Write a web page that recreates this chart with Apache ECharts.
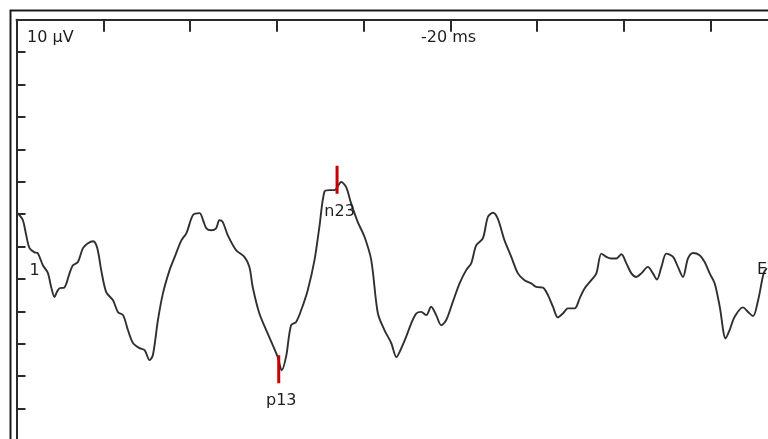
<!DOCTYPE html>
<html>
<head>
<meta charset="utf-8">
<script src="https://cdn.jsdelivr.net/npm/echarts@6/dist/echarts.min.js"></script>
<style>
html,body{margin:0;padding:0;background:#fff;overflow:hidden;}
#chart{width:800px;height:445px;}
</style>
</head>
<body>
<div id="chart"></div>
<script>
// Time (ms) of each sample of the trace
const timeMs = [0.04,0.17,0.37,0.56,0.75,1.04,1.23,1.52,1.81,2.00,2.19,2.32,2.48,2.77,3.06,3.25,3.54,3.83,4.12,4.41,4.60,4.74,4.88,5.17,5.56,5.85,6.14,6.42,6.71,7.09,7.38,7.67,7.86,8.15,8.44,8.82,9.11,9.50,9.79,10.17,10.55,10.75,10.94,11.21,11.50,11.69,11.88,12.17,12.65,13.13,13.42,13.61,13.99,14.47,15.05,15.28,15.53,15.82,16.11,16.40,16.78,17.17,17.45,17.74,18.03,18.32,18.71,18.99,19.28,19.66,20.05,20.44,20.82,21.20,21.59,21.89,22.07,22.45,22.74,23.03,23.32,23.61,23.89,24.18,24.47,24.76,25.14,25.53,25.91,26.20,26.49,26.87,27.16,27.45,27.73,28.12,28.51,28.89,29.27,29.66,29.95,30.33,30.62,30.91,31.19,31.48,31.77,32.16,32.45,32.73,33.12,33.41,33.70,33.98,34.27,34.56,34.85,35.14,35.43,35.71,36.00,36.38,36.67,36.90,37.16,37.44,37.83,38.11,38.40,38.69,38.98,39.36,39.65,39.94,40.23,40.52,40.86,41.09,41.38,41.86,42.15,42.44,42.73,43.05,43.23];
// Amplitude (µV, divisions from bottom of the panel)
const amplitude = [7.03,6.97,6.81,6.35,5.95,5.82,5.79,5.42,5.18,4.74,4.44,4.59,4.71,4.74,5.18,5.42,5.52,5.95,6.10,6.16,6.04,5.73,5.27,4.59,4.34,3.97,3.88,3.42,3.02,2.86,2.80,2.49,2.65,3.73,4.56,5.27,5.67,6.19,6.41,6.97,7.03,6.81,6.56,6.50,6.56,6.81,6.76,6.35,5.89,5.68,5.37,4.75,3.94,3.32,2.59,2.18,2.59,3.57,3.67,4.03,4.65,5.58,6.60,7.69,7.74,7.74,7.99,7.84,7.33,6.76,6.30,5.58,3.94,3.42,3.02,2.58,2.74,3.21,3.62,3.93,3.98,3.88,4.14,3.88,3.57,3.73,4.29,4.86,5.27,5.48,6.04,6.25,6.91,7.04,6.86,6.19,5.68,5.17,4.96,4.86,4.75,4.73,4.50,4.14,3.81,3.93,4.09,4.09,4.40,4.70,4.96,5.17,5.78,5.68,5.63,5.63,5.76,5.48,5.17,5.06,5.17,5.37,5.17,4.98,5.37,5.78,5.68,5.37,5.06,5.63,5.80,5.73,5.52,5.17,4.86,4.14,3.16,3.42,3.83,4.12,3.98,3.85,4.34,5.17,5.33];
// Peak markers
const markerNames = ['n23', 'p13'];
const markerTime = [18.47, 15.11];
const markerAmp = [8.06, 2.21];
// Axis settings
const xMin = 0, xMax = 45, xStep = 5;
const yMin = 0, yMax = 13, yStep = 1;
// Panel captions
const ampCaption = '10 µV';
const timeCaption = '-20 ms';
const channelLeft = '1';
const channelRight = 'E';

const traceData = timeMs.map((t, i) => [t, amplitude[i]]);
const markerData = markerNames.map((n, i) => ({ name: n, value: [markerTime[i], markerAmp[i]] }));

const chart = echarts.init(document.getElementById('chart'), null, { renderer: 'canvas' });
const FONT = '"DejaVu Sans", Verdana, sans-serif';

chart.setOption({
  animation: false,
  backgroundColor: '#fff',
  grid: { left: 16.5, top: 19.8, right: 2.5, bottom: 4.2, containLabel: false },
  xAxis: {
    type: 'value', position: 'top', min: xMin, max: xMax, interval: xStep,
    axisLine: { show: true, onZero: false, lineStyle: { color: '#2a2a2a', width: 2 } },
    axisTick: { show: true, inside: true, length: 12, lineStyle: { color: '#2a2a2a', width: 2 } },
    axisLabel: { show: false }, splitLine: { show: false }
  },
  yAxis: {
    type: 'value', min: yMin, max: yMax, interval: yStep,
    axisLine: { show: true, onZero: false, lineStyle: { color: '#2a2a2a', width: 2 } },
    axisTick: { show: true, inside: true, length: 9, lineStyle: { color: '#2a2a2a', width: 2 } },
    axisLabel: { show: false }, splitLine: { show: false }
  },
  graphic: [
    { type: 'rect', shape: { x: 10.5, y: 10.5, width: 900, height: 600 }, style: { fill: 'none', stroke: '#1a1a1a', lineWidth: 2 }, z: 5, silent: true },
    { type: 'text', x: 27, y: 38, style: { text: ampCaption, font: '16px ' + FONT, fill: '#1e1e1e', verticalAlign: 'middle' }, z: 10 },
    { type: 'text', x: 421, y: 38, style: { text: timeCaption, font: '16px ' + FONT, fill: '#1e1e1e', verticalAlign: 'middle' }, z: 10 },
    { type: 'text', x: 29.5, y: 271, style: { text: channelLeft, font: '16px ' + FONT, fill: '#1e1e1e', verticalAlign: 'middle' }, z: 10 },
    { type: 'text', x: 757, y: 270, style: { text: channelRight, font: '16px ' + FONT, fill: '#1e1e1e', verticalAlign: 'middle' }, z: 10 }
  ],
  series: [
    {
      type: 'line', data: traceData, showSymbol: false, smooth: 0.3,
      lineStyle: { color: '#303030', width: 1.9 }, z: 3
    },
    {
      type: 'scatter', data: markerData, symbol: 'rect', symbolSize: [3, 28],
      itemStyle: { color: '#c40000', opacity: 1 }, z: 4,
      label: { show: true, position: 'inside', offset: [2.5, 32], formatter: '{b}', color: '#1e1e1e', fontSize: 16, fontFamily: FONT, textBorderWidth: 0 }
    }
  ]
});
</script>
</body>
</html>
